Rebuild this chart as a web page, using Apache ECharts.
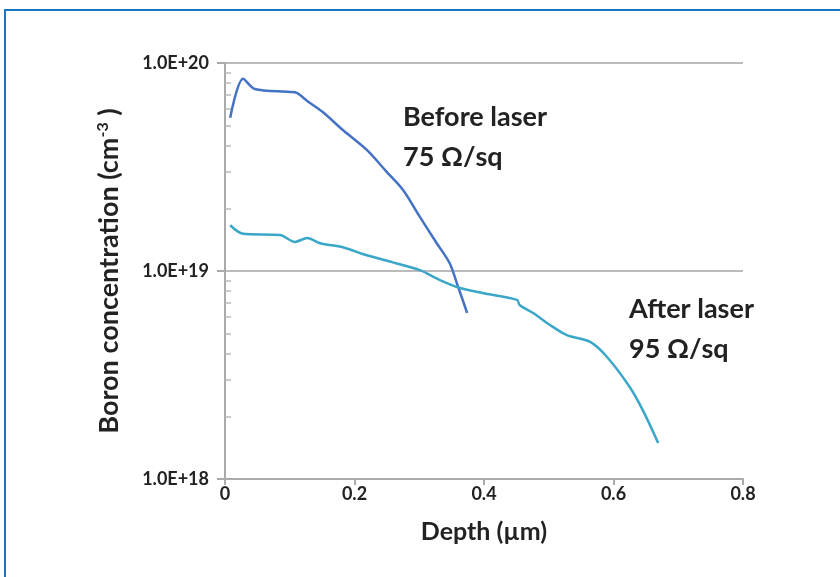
<!DOCTYPE html>
<html>
<head>
<meta charset="utf-8">
<title>Boron concentration profile</title>
<script src="https://cdn.jsdelivr.net/npm/echarts@6/dist/echarts.min.js"></script>
<style>
  html, body { margin: 0; padding: 0; background: #fff; }
  #chart { width: 840px; height: 577px; }
</style>
</head>
<body>
<div id="chart"></div>
<script>
// --- Data (depth in µm, concentration in cm^-3) ---
const beforeDepth = [0.008, 0.028, 0.046, 0.100, 0.111, 0.127, 0.151, 0.182, 0.219, 0.250, 0.275, 0.301, 0.327, 0.347, 0.358, 0.374];
const beforeConc  = [5.45e19, 8.4e19, 7.5e19, 7.26e19, 7.18e19, 6.57e19, 5.81e19, 4.76e19, 3.82e19, 2.99e19, 2.45e19, 1.82e19, 1.36e19, 1.09e19, 8.75e18, 6.28e18];

const afterDepth = [0.008, 0.028, 0.085, 0.108, 0.127, 0.147, 0.182, 0.219, 0.259, 0.301, 0.332, 0.363, 0.398, 0.451, 0.455, 0.476, 0.502, 0.528, 0.564, 0.590, 0.625, 0.645, 0.669];
const afterConc  = [1.66e19, 1.51e19, 1.49e19, 1.38e19, 1.44e19, 1.36e19, 1.30e19, 1.19e19, 1.10e19, 1.01e19, 9.05e18, 8.28e18, 7.83e18, 7.26e18, 6.87e18, 6.28e18, 5.5e18, 4.92e18, 4.56e18, 3.86e18, 2.77e18, 2.15e18, 1.49e18];

// Minor (2..9 per decade) tick values on the log axis.
const minorTicks = [2e18, 3e18, 4e18, 5e18, 6e18, 7e18, 8e18, 9e18, 2e19, 3e19, 4e19, 5e19, 6e19, 7e19, 8e19, 9e19];

const FONT = "Lato";
const INK = "#222";
const zip = (xs, ys) => xs.map((x, i) => [x, ys[i]]);

const chart = echarts.init(document.getElementById("chart"), null, { renderer: "canvas" });

chart.setOption({
  animation: false,
  backgroundColor: "#fff",
  grid: { left: 225, right: 97, top: 63, bottom: 98 },
  xAxis: {
    type: "value",
    min: 0,
    max: 0.8,
    interval: 0.2,
    name: "Depth (\u00b5m)",
    nameLocation: "middle",
    nameGap: 40,
    nameTextStyle: { fontFamily: FONT, fontWeight: "bold", fontSize: 25, color: INK },
    axisLine: { onZero: false, lineStyle: { color: "#aaa", width: 2 } },
    axisTick: { show: true, length: 6, lineStyle: { color: "#aaa", width: 2 } },
    axisLabel: {
      margin: 6,
      fontFamily: FONT, fontWeight: "bold", fontSize: 18, color: INK,
      formatter: (v) => (v === 0 ? "0" : String(+v.toFixed(1))),
    },
    splitLine: { show: false },
  },
  yAxis: [
    {
      type: "log",
      logBase: 10,
      min: 1e18,
      max: 1e20,
      name: "Boron concentration (cm{sup|-3} )",
      nameLocation: "middle",
      nameGap: 102,
      nameRotate: 90,
      nameTextStyle: {
        fontFamily: FONT, fontWeight: "bold", fontSize: 27, color: INK,
        rich: { sup: { fontFamily: FONT, fontWeight: "bold", fontSize: 16, color: INK, verticalAlign: "top", padding: [0, 0, 12, 0] } },
      },
      axisLine: { show: true, lineStyle: { color: "#aaa", width: 2 } },
      axisTick: { show: true, length: 8, lineStyle: { color: "#aaa", width: 2 } },
      axisLabel: {
        margin: 16,
        fontFamily: FONT, fontWeight: "bold", fontSize: 18, color: INK,
        formatter: (v) => "1.0E+" + Math.round(Math.log10(v)),
      },
      splitLine: { show: true, lineStyle: { color: "#bbb", width: 2 } },
    },
    {
      // overlay axis that only draws the small inside minor ticks
      type: "log",
      logBase: 10,
      min: 1e18,
      max: 1e20,
      position: "left",
      axisLine: { show: false },
      axisLabel: { show: false },
      splitLine: { show: false },
      axisTick: {
        show: true, inside: true, length: 6,
        customValues: minorTicks,
        lineStyle: { color: "#bbb", width: 1.5 },
      },
    },
  ],
  series: [
    {
      name: "Before laser",
      type: "line",
      yAxisIndex: 0,
      data: zip(beforeDepth, beforeConc),
      showSymbol: false,
      smooth: 0.3,
      lineStyle: { color: "#4472c4", width: 2.5 },
    },
    {
      name: "After laser",
      type: "line",
      yAxisIndex: 0,
      data: zip(afterDepth, afterConc),
      showSymbol: false,
      smooth: 0.3,
      lineStyle: { color: "#3aa7c9", width: 2.5 },
    },
  ],
  graphic: [
    {
      type: "rect",
      shape: { x: 5, y: 10, width: 900, height: 700 },
      style: { fill: "none", stroke: "#1a74c8", lineWidth: 2 },
      silent: true,
    },
    {
      type: "text", left: 403, top: 97,
      style: { text: "Before laser\n75 \u03a9/sq", font: "bold 27px Lato", fill: INK, lineHeight: 40 },
    },
    {
      type: "text", left: 629, top: 289,
      style: { text: "After laser\n95 \u03a9/sq", font: "bold 27px Lato", fill: INK, lineHeight: 40 },
    },
  ],
});

window.addEventListener("resize", () => chart.resize());
</script>
</body>
</html>
